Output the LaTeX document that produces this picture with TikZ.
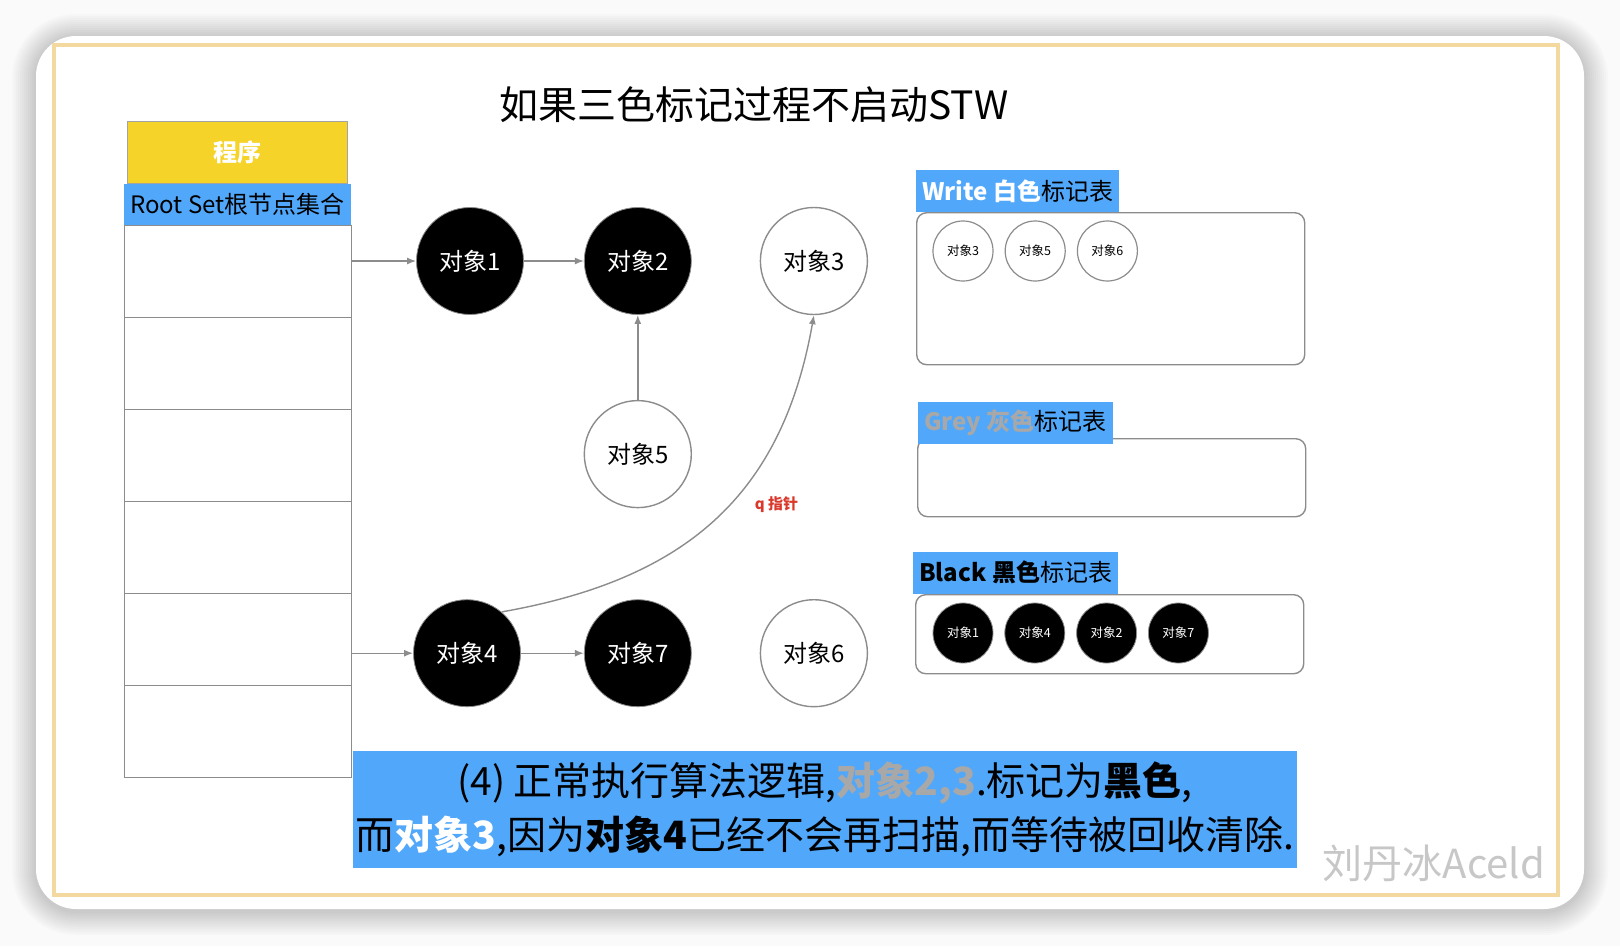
\documentclass[tikz,border=0pt]{standalone}
\usepackage{fontspec}
\setmainfont{Noto Sans CJK SC}
\usetikzlibrary{positioning,arrows.meta}

\definecolor{tabblue}{HTML}{51A7F9}
\definecolor{progyellow}{HTML}{F5D329}
\definecolor{linegrey}{HTML}{8C8C8C}
\definecolor{framegold}{HTML}{F3D9A0}
\definecolor{qred}{HTML}{D9382B}
\definecolor{softgrey}{HTML}{A8A8A8}

\begin{document}
\begin{tikzpicture}[
  x=1pt, y=-1pt,
  node distance=60pt,
  obj/.style={circle, minimum size=107pt, inner sep=0pt, font=\fontsize{24}{28}\selectfont},
  blackobj/.style={obj, fill=black, draw=linegrey, line width=0.8pt, text=white},
  whiteobj/.style={obj, fill=white, draw=linegrey, line width=1.4pt},
  mini/.style={circle, minimum size=60pt, inner sep=0pt, font=\fontsize{12.5}{15}\selectfont},
  miniblack/.style={mini, fill=black, draw=linegrey, line width=0.8pt, text=white},
  miniwhite/.style={mini, fill=white, draw=linegrey, line width=1.2pt},
  rowbox/.style={draw=linegrey, line width=1.2pt, minimum width=227pt, minimum height=92pt, anchor=north west, inner sep=0pt},
  tabbox/.style={draw=linegrey, line width=1.4pt, rounded corners=10pt, fill=white, anchor=north west, inner sep=0pt, minimum width=388pt},
  tabhead/.style={fill=tabblue, anchor=south west, inner xsep=6pt, minimum height=42pt, font=\fontsize{24}{28}\selectfont},
  arrow/.style={-{Latex[length=9pt,width=7pt]}, draw=linegrey, line width=1.4pt}
]
\useasboundingbox (0,0) rectangle (1620,946);
\fill[black!2] (0,0) rectangle (1620,946);
\foreach \s [evaluate=\s as \r using 40+\s] in {2,4,...,24}
  \fill[black, opacity=0.014, rounded corners=\r pt] (36-\s,38-\s) rectangle (1584+\s,911+\s);
\fill[white, rounded corners=40pt] (36,36) rectangle (1584,909);
\draw[framegold, line width=4pt] (54,45) rectangle (1558,895);

\node[font=\fontsize{39}{43}\selectfont] (title) at (754,105) {如果三色标记过程不启动STW};

\node[draw=linegrey!80, fill=progyellow, minimum width=220pt, minimum height=62pt, text=white, font=\bfseries\fontsize{24}{28}\selectfont] (prog) at (237,152) {程序};
\node[fill=tabblue, minimum width=227pt, minimum height=41pt, font=\fontsize{24}{28}\selectfont] (root) at (237.5,204.5) {Root Set根节点集合};
\node[rowbox] (row1) at (124,225) {};
\node[rowbox] (row2) at (124,317) {};
\node[rowbox] (row3) at (124,409) {};
\node[rowbox] (row4) at (124,501) {};
\node[rowbox] (row5) at (124,593) {};
\node[rowbox] (row6) at (124,685) {};

\node[blackobj] (o1) at (470,261) {对象1};
\node[blackobj, right=60pt of o1] (o2) {对象2};
\node[whiteobj, right=68pt of o2] (o3) {对象3};
\node[whiteobj, below=85pt of o2] (o5) {对象5};
\node[blackobj, below=91pt of o5] (o7) {对象7};
\node[blackobj, left=63pt of o7] (o4) {对象4};
\node[whiteobj, right=68pt of o7] (o6) {对象6};

\draw[arrow] (o1 -| row1.east) -- (o1);
\draw[arrow] (o1) -- (o2);
\draw[arrow] (o5) -- (o2);
\draw[arrow] (o4 -| row5.east) -- (o4);
\draw[arrow] (o4) -- (o7);
\draw[arrow] (o4.50) to[out=10, in=-100, looseness=1.1]
  node[pos=0.55, right=22pt, text=qred, font=\bfseries\fontsize{15}{17}\selectfont] (qlabel) {q 指针} (o3.south);

\node[tabbox, minimum height=152pt] (wbox) at (916,212) {};
\node[tabhead] (whead) at (wbox.north west) {\textcolor{white}{\bfseries Write 白色}标记表};
\node[miniwhite] (w3) at (963,251) {对象3};
\node[miniwhite, right=11pt of w3] (w5) {对象5};
\node[miniwhite, right=11pt of w5] (w6) {对象6};

\node[tabbox, minimum height=78pt] (gbox) at (917,438) {};
\node[tabhead] (ghead) at (918,444) {\textcolor{softgrey}{\bfseries Grey 灰色}标记表};

\node[tabbox, minimum height=79pt] (bbox) at (915,594) {};
\node[tabhead] (bhead) at ([xshift=-2pt]bbox.north west) {{\bfseries Black 黑色}标记表};
\node[miniblack] (b1) at (963,633) {对象1};
\node[miniblack, right=11pt of b1] (b4) {对象4};
\node[miniblack, right=11pt of b4] (b2) {对象2};
\node[miniblack, right=11pt of b2] (b7) {对象7};

\node[fill=tabblue, minimum width=942pt, minimum height=117pt, align=center, font=\fontsize{39}{54}\selectfont] (note) at (825,809.5)
  {(4) 正常执行算法逻辑,\textcolor{softgrey}{\bfseries 对象2,3}.标记为\textbf{黑色},\\
   而\textcolor{white}{\bfseries 对象3},因为\textbf{对象4}已经不会再扫描,而等待被回收清除.};

\node[text=black!22, font=\fontsize{40}{44}\selectfont] (mark) at (1434,863) {刘丹冰Aceld};
\end{tikzpicture}
\end{document}
